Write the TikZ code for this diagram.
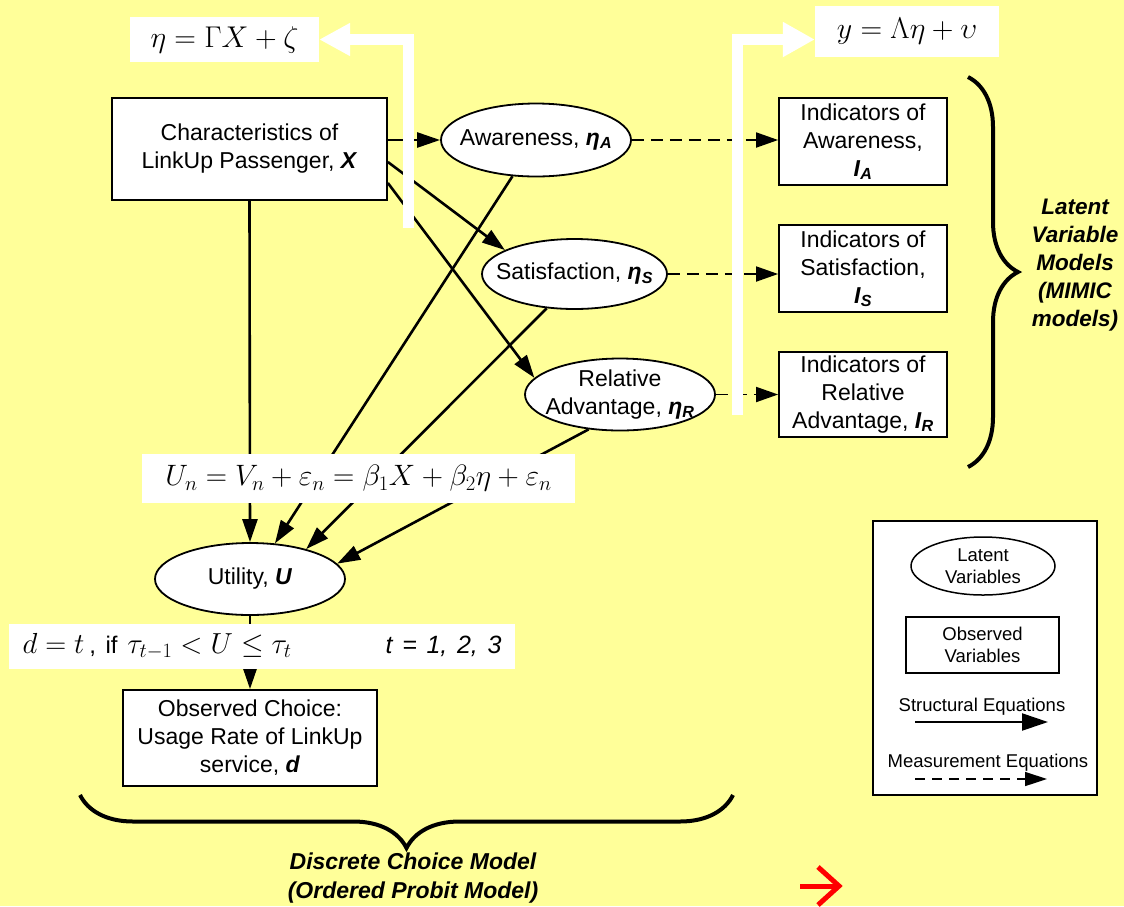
\RequirePackage{fix-cm}
\documentclass[tikz,border=0pt]{standalone}
\usepackage{amsmath}
\usepackage{fontspec}
\setmainfont{Liberation Sans}
\usetikzlibrary{shapes.geometric,arrows.meta,decorations.pathreplacing}
\definecolor{bgyellow}{RGB}{255,255,153}
\newcommand{\boldit}[1]{\textbf{\textit{#1}}}
\newcommand{\varsub}[2]{\boldit{#1}\textsubscript{\boldit{#2}}}
\begin{document}
\begin{tikzpicture}[x=1pt,y=-1pt,
  txt/.style={font=\fontsize{23}{28}\selectfont, align=center},
  smalltxt/.style={font=\fontsize{18.5}{22}\selectfont, align=center},
  obs/.style={draw, line width=1.8pt, fill=white, inner sep=0pt, txt},
  lat/.style={draw, ellipse, line width=1.8pt, fill=white, inner sep=0pt},
  struct/.style={line width=2.6pt, -{Triangle[length=23pt,width=15pt]}},
  meas/.style={line width=1.8pt, dash pattern=on 12pt off 7pt, -{Triangle[length=22pt,width=15pt]}},
  eqbox/.style={fill=white, inner sep=0pt},
  wbar/.style={draw=white, line width=11pt, line join=miter},
  brc/.style={decorate, line width=4pt},
  modeltxt/.style={font=\fontsize{22.5}{28}\selectfont\bfseries\itshape, align=center}
]
\fill[bgyellow] (0,0) rectangle (1124,906);
\useasboundingbox (0,0) rectangle (1124,906);

% main nodes
\node[obs, minimum width=275pt, minimum height=102pt] (X) at (249.5,149) {Characteristics of\\LinkUp Passenger, \boldit{X}};
\node[lat, minimum width=190pt, minimum height=73pt, label={[txt]center:{Awareness, \varsub{η}{A}}}] (A) at (536,140) {};
\node[lat, minimum width=185pt, minimum height=70pt, label={[txt]center:{Satisfaction, \varsub{η}{S}}}] (S) at (574.5,274) {};
\node[lat, minimum width=190pt, minimum height=72pt, label={[txt]center:{Relative\\Advantage, \varsub{η}{R}}}] (R) at (620,394.5) {};
\node[obs, minimum width=168pt, minimum height=87pt] (IA) at (863,141.5) {Indicators of\\Awareness,\\\varsub{I}{A}};
\node[obs, minimum width=168pt, minimum height=87pt] (IS) at (863,268.5) {Indicators of\\Satisfaction,\\\varsub{I}{S}};
\node[obs, minimum width=168pt, minimum height=85pt] (IR) at (863,394.5) {Indicators of\\Relative\\Advantage, \varsub{I}{R}};
\node[lat, minimum width=190pt, minimum height=72pt, label={[txt]center:{Utility, \boldit{U}}}] (U) at (250,579) {};
\node[obs, minimum width=254pt, minimum height=96pt] (O) at (250,738) {Observed Choice:\\Usage Rate of LinkUp\\service, \boldit{d}};

% structural connectors
\draw[struct] (X.east |- A.west) -- (A.west);
\draw[struct] ([yshift=-13pt]X.east) -- (S.161);
\draw[struct] ([yshift=-34pt]X.east) -- (R.169);
\draw[struct] (X.south) -- (U.north);
\draw[struct] (A.237) -- (U.55);
\draw[struct] (S.231) -- (U.28);
\draw[struct] (R.228) -- (U.10);
\draw[struct] (U.south) -- (O.north);
% measurement connectors
\draw[meas] (A.east) -- (A.east -| IA.west);
\draw[meas] (S.east) -- (S.east -| IS.west);
\draw[meas] (R.east) -- (R.east -| IR.west);

% equations
\node[eqbox, minimum width=189pt, minimum height=45pt, font=\fontsize{30}{30}\selectfont] (e1) at (224.5,39.5) {$\eta = \Gamma X + \zeta$};
\node[eqbox, minimum width=184pt, minimum height=51pt, font=\fontsize{30}{30}\selectfont] (e2) at (907,31.5) {$y = \Lambda\eta + \upsilon$};
\node[eqbox, minimum width=433pt, minimum height=49pt, font=\fontsize{29.5}{29.5}\selectfont] (e3) at (358.5,478.5) {$U_n = V_n + \varepsilon_n = \beta_1 X + \beta_2\eta + \varepsilon_n$};
\node[eqbox, minimum width=506pt, minimum height=45pt, text width=479pt, align=left, font=\fontsize{29}{29}\selectfont] (e4) at (262,646.5) {$d = t$\,{\fontsize{24}{24}\selectfont, if} $\tau_{t-1} < U \le \tau_t$\hfill{\fontsize{25}{25}\selectfont\itshape t = 1, 2, 3}};

% white arrows
\coordinate (w1) at (408,39.5);
\coordinate (w2) at (737.5,39.5);
\draw[wbar, -{Triangle[length=31pt,width=31pt]}] (408,228) -- (w1) -- (e1.east |- w1);
\draw[wbar, -{Triangle[length=32pt,width=33pt]}] (737.5,415) -- (w2) -- (e2.west |- w2);

% braces and model labels
\draw[brc, decoration={brace, amplitude=50pt}] (968,77) -- (968,467);
\draw[brc, decoration={brace, amplitude=53pt}] (733,795) -- (80,795);
\node[modeltxt] (lvm) at (1075,265) {Latent\\Variable\\Models\\(MIMIC\\models)};
\node[modeltxt, font=\fontsize{23}{29}\selectfont\bfseries\itshape] (dcm) at (413,878) {Discrete Choice Model\\(Ordered Probit Model)};

% legend
\node[draw, line width=1.5pt, fill=white, minimum width=224pt, minimum height=274pt] (leg) at (985,658) {};
\node[lat, line width=1.5pt, minimum width=144pt, minimum height=58pt, label={[smalltxt]center:{Latent\\Variables}}] (legL) at (983,566) {};
\node[draw, line width=1.5pt, fill=white, minimum width=153pt, minimum height=56pt, smalltxt] (legO) at (982.5,645) {Observed\\Variables};
\node[smalltxt] (legS) at (982,707) {Structural Equations};
\coordinate (s1) at (915,722);
\coordinate (s2) at (1048,722);
\draw[line width=2.2pt, -{Triangle[length=26pt,width=17pt]}] (s1) -- (s2);
\node[smalltxt] (legM) at (988,763) {Measurement Equations};
\coordinate (m1) at (915,779);
\coordinate (m2) at (1047,779);
\draw[line width=1.5pt, dash pattern=on 10pt off 7pt, -{Triangle[length=22pt,width=14pt]}] (m1) -- (m2);

% red arrow
\coordinate (r1) at (800,886);
\coordinate (r2) at (839,886);
\draw[red, line width=5pt] (r1) -- (r2);
\draw[red, line width=5pt, line join=miter] (818,867) -- (r2) -- (818,905);
\end{tikzpicture}
\end{document}
